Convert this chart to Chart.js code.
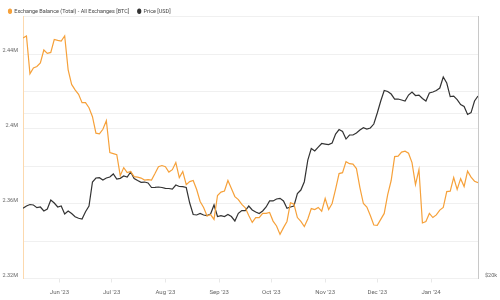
<!DOCTYPE html>
<html><head><meta charset="utf-8">
<script src="https://cdn.jsdelivr.net/npm/chart.js@4.4.1/dist/chart.umd.min.js"></script>
<style>html,body{margin:0;padding:0;background:#fff}#wrap{width:500px;height:300px}</style>
</head><body><div id="wrap"><canvas id="c" width="500" height="300"></canvas></div>
<script>
const startDate = '2023-05-11';
const stepDays = 2;
const balanceLabel = 'Exchange Balance (Total) - All Exchanges [BTC]';
const priceLabel = 'Price [USD]';
const balance = [
2448600,2449700,2429400,2432600,2433400,2435300,2442200,2440400,2440900,2447800,
2447300,2447000,2449700,2431600,2423800,2420900,2418500,2414000,2414000,2411300,
2406500,2397700,2397400,2399800,2404400,2387300,2386800,2386200,2375000,2379300,
2376600,2377200,2374500,2374200,2373700,2372600,2372900,2372600,2376100,2379800,
2380400,2379800,2376900,2378200,2382000,2374000,2377200,2370200,2371800,2372400,
2367600,2361200,2358000,2353400,2354200,2351600,2364400,2366200,2366800,2372400,
2368100,2363800,2362200,2359600,2357800,2353700,2350000,2352600,2352600,2354800,
2354800,2355300,2350700,2348100,2343600,2347200,2350500,2360500,2359800,2352600,
2350500,2347800,2351800,2357400,2356900,2358000,2356000,2362800,2356900,2360100,
2367800,2376100,2376600,2382500,2381400,2381200,2378800,2368600,2360100,2358200,
2353700,2348600,2348400,2351600,2354800,2364900,2372400,2385200,2385400,2387600,
2388100,2387000,2382000,2370200,2378200,2349700,2350500,2354800,2352600,2354000,
2356600,2358000,2366500,2366700,2374000,2367600,2373400,2369200,2377400,2374200,
2372000,2371200
];
const price = [
26850,27110,27280,27230,26920,27000,26550,26770,27800,27450,
27000,27110,26220,26550,26270,25920,25750,25670,26470,27110,
29980,30490,30530,30240,30490,30620,31010,30360,30450,30750,
30620,31270,30430,30170,29940,29980,29860,29300,29320,29360,
29300,29200,29180,29110,29610,29420,29400,29300,27450,26160,
26110,26270,26110,26050,26220,27230,25940,26030,25940,26160,
25940,25460,26290,26600,26600,27110,26660,26440,26270,26550,
27000,27690,27690,27920,28000,27690,26850,27000,27110,28570,
28990,30020,32880,34510,34150,34720,35240,35160,35090,35310,
36670,37370,37060,35910,36520,36520,36830,37290,37650,37450,
37610,38240,40050,42120,44020,43830,43370,42470,42470,42300,
42120,43190,43740,43100,43190,42560,42120,43560,43740,44020,
44480,46580,45420,42920,43010,42380,41510,41160,39800,40130,
42120,43010
];
const monthTickDates = ['2023-06-01','2023-07-01','2023-08-01','2023-09-01','2023-10-01','2023-11-01','2023-12-01','2024-01-01'];
const monthTickLabels = ["Jun '23","Jul '23","Aug '23","Sep '23","Oct '23","Nov '23","Dec '23","Jan '24"];
const balanceTicks = [2320000,2340000,2360000,2380000,2400000,2420000,2440000,2460000];
const balanceTickLabels = ['2.32M','','2.36M','','2.4M','','2.44M',''];
const priceTicks = [20000,40000,60000];
const priceTickLabels = ['$20k','',''];

const DAY = 86400000;
const t0 = Date.parse(startDate + 'T00:00:00Z');
const dayOf = d => Math.round((Date.parse(d + 'T00:00:00Z') - t0) / DAY);
const tickDays = monthTickDates.map(dayOf);
const lastDay = (balance.length - 1) * stepDays;

const orange = '#f6a13a';
const dark = '#333333';
const yFont = {family: 'Roboto', size: 5.5};
const xFont = {family: 'Roboto', size: 6};
const noPad = s => { s.paddingTop = 0; s.paddingBottom = 0; };

new Chart(document.getElementById('c'), {
  type: 'line',
  data: {
    datasets: [
      {label: balanceLabel, data: balance.map((v, i) => ({x: i * stepDays, y: v})), borderColor: orange, backgroundColor: orange,
       borderWidth: 1.2, pointRadius: 0, yAxisID: 'yB', tension: 0},
      {label: priceLabel, data: price.map((v, i) => ({x: i * stepDays, y: v})), borderColor: dark, backgroundColor: dark,
       borderWidth: 1.2, pointRadius: 0, yAxisID: 'yP', tension: 0}
    ]
  },
  options: {
    responsive: false, animation: false, devicePixelRatio: 1,
    layout: {padding: {left: 0, right: 0, top: 0, bottom: 0}},
    plugins: {
      legend: {display: true, align: 'start', maxHeight: 16.7,
        labels: {usePointStyle: true, pointStyle: 'circle', boxWidth: 3, boxHeight: 3, pointStyleWidth: 3, padding: 8.5,
                 font: {family: 'Roboto', size: 5.5}, color: '#444'}},
      tooltip: {enabled: false}
    },
    scales: {
      x: {type: 'linear', min: 0, max: lastDay,
        grid: {drawOnChartArea: false, tickLength: 4, color: '#e8e8e8'}, border: {display: false},
        afterBuildTicks: s => { s.ticks = tickDays.map(v => ({value: v})); },
        ticks: {callback: (v, i) => monthTickLabels[i], font: xFont, color: '#666', padding: 6, maxRotation: 0, autoSkip: false},
        afterFit: s => { s.height = 21.5; }},
      yB: {position: 'left', min: 2320000, max: 2460000,
        afterBuildTicks: s => { s.ticks = balanceTicks.map(v => ({value: v})); },
        ticks: {callback: (v, i) => balanceTickLabels[i], font: yFont, color: '#666', padding: 5, labelOffset: -3, autoSkip: false},
        grid: {color: '#f0f0f0', drawTicks: false}, border: {color: '#fcd9ae'},
        afterFit: s => { s.width = 23; noPad(s); }},
      yP: {position: 'right', type: 'logarithmic', min: 20000, max: 60000,
        afterBuildTicks: s => { s.ticks = priceTicks.map(v => ({value: v})); },
        ticks: {callback: (v, i) => priceTickLabels[i], font: yFont, color: '#666', padding: 7, labelOffset: -3, autoSkip: false},
        grid: {color: '#f0f0f0', drawTicks: false}, border: {color: '#c8c8c8'},
        afterFit: s => { s.width = 22; noPad(s); }}
    }
  }
});
</script></body></html>
